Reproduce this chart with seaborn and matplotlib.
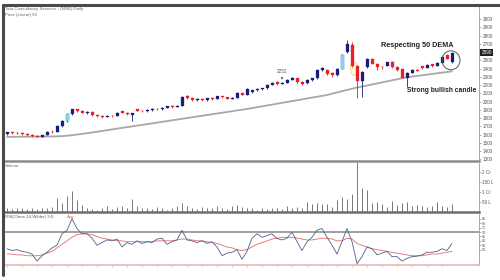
import numpy as np
import pandas as pd
import matplotlib
matplotlib.use("Agg")
import matplotlib.pyplot as plt
from matplotlib.lines import Line2D
from matplotlib.patches import Ellipse
import seaborn as sns

# ---------------- data ----------------
opens = [1610, 1625, 1615, 1622, 1608, 1598, 1585, 1572, 1595, 1635,
         1630, 1700, 1760, 1850, 1905, 1880, 1865, 1875, 1840, 1825,
         1815, 1830, 1825, 1880, 1862, 1835, 1905, 1890, 1880, 1895,
         1910, 1905, 1925, 1945, 1935, 1950, 2065, 2040, 2020, 2035,
         2015, 2040, 2030, 2065, 2050, 2035, 2045, 2100, 2085, 2110,
         2135, 2150, 2160, 2205, 2235, 2215, 2225, 2260, 2280, 2240,
         2220, 2260, 2280, 2380, 2380, 2350, 2320, 2400, 2600, 2690,
         2430, 2250, 2420, 2520, 2460, 2420, 2430, 2475, 2420, 2390,
         2290, 2350, 2385, 2425, 2410, 2450, 2430, 2470, 2560, 2480]
closes = [1625, 1615, 1622, 1608, 1598, 1585, 1575, 1592, 1635, 1628,
          1700, 1760, 1850, 1905, 1880, 1865, 1875, 1840, 1825, 1815,
          1830, 1825, 1865, 1862, 1848, 1855, 1890, 1880, 1895, 1910,
          1905, 1925, 1945, 1935, 1950, 2060, 2040, 2020, 2035, 2015,
          2040, 2030, 2065, 2050, 2035, 2045, 2100, 2085, 2150, 2135,
          2150, 2160, 2205, 2230, 2215, 2225, 2260, 2285, 2240, 2215,
          2260, 2280, 2380, 2410, 2330, 2320, 2400, 2560, 2700, 2430,
          2250, 2360, 2520, 2460, 2420, 2415, 2475, 2420, 2380, 2290,
          2350, 2380, 2375, 2410, 2445, 2430, 2470, 2540, 2520, 2590]
highs = [1635, 1632, 1630, 1628, 1615, 1605, 1592, 1600, 1645, 1650,
         1710, 1770, 1860, 1915, 1915, 1895, 1885, 1880, 1850, 1835,
         1840, 1838, 1872, 1890, 1870, 1860, 1912, 1900, 1905, 1918,
         1920, 1932, 1950, 1955, 1958, 2070, 2075, 2050, 2045, 2042,
         2048, 2050, 2070, 2072, 2058, 2052, 2110, 2112, 2160, 2145,
         2160, 2168, 2212, 2240, 2245, 2235, 2270, 2292, 2290, 2250,
         2268, 2290, 2390, 2420, 2395, 2360, 2410, 2570, 2740, 2720,
         2440, 2370, 2530, 2530, 2470, 2430, 2480, 2490, 2430, 2395,
         2360, 2390, 2395, 2435, 2455, 2460, 2480, 2550, 2575, 2600]
lows = [1600, 1605, 1606, 1598, 1588, 1575, 1565, 1565, 1590, 1620,
        1625, 1695, 1750, 1840, 1870, 1855, 1850, 1830, 1815, 1800,
        1808, 1815, 1820, 1855, 1840, 1760, 1880, 1870, 1875, 1888,
        1898, 1900, 1918, 1925, 1930, 1945, 2030, 2010, 2012, 2005,
        2010, 2020, 2025, 2040, 2025, 2030, 2040, 2078, 2080, 2100,
        2128, 2145, 2155, 2198, 2205, 2208, 2220, 2255, 2230, 2205,
        2212, 2250, 2275, 2370, 2320, 2300, 2310, 2390, 2590, 2420,
        2045, 2050, 2410, 2450, 2380, 2400, 2425, 2410, 2370, 2280,
        2180, 2340, 2365, 2400, 2405, 2420, 2425, 2465, 2510, 2470]
dema50 = [1572, 1572, 1573, 1573, 1574, 1574, 1575, 1575, 1576, 1577,
          1578, 1580, 1585, 1592, 1600, 1608, 1616, 1625, 1634, 1643,
          1652, 1662, 1671, 1680, 1689, 1698, 1708, 1717, 1726, 1735,
          1744, 1754, 1763, 1772, 1781, 1790, 1800, 1809, 1818, 1827,
          1836, 1846, 1855, 1864, 1873, 1882, 1892, 1901, 1910, 1920,
          1931, 1941, 1952, 1962, 1973, 1984, 1994, 2005, 2015, 2026,
          2037, 2047, 2058, 2068, 2079, 2095, 2110, 2125, 2140, 2155,
          2170, 2182, 2194, 2207, 2219, 2232, 2244, 2257, 2269, 2282,
          2294, 2302, 2310, 2318, 2326, 2334, 2342, 2350, 2358, 2366]
volume_lakh = [20, 15, 22, 18, 15, 20, 14, 22, 18, 25,
               70, 45, 80, 105, 60, 35, 20, 15, 12, 18,
               30, 15, 25, 28, 20, 65, 30, 18, 22, 15,
               25, 18, 12, 20, 28, 45, 30, 20, 15, 25,
               18, 22, 30, 20, 15, 28, 35, 25, 20, 22,
               12, 18, 15, 20, 22, 15, 28, 20, 25, 18,
               50, 40, 45, 38, 40, 25, 60, 75, 65, 90,
               260, 120, 110, 45, 50, 40, 25, 55, 35, 45,
               50, 30, 35, 28, 25, 30, 50, 30, 25, 40]
rsi = [51, 49, 50, 48, 47, 45, 37, 43, 47, 52,
       55, 68, 72, 85, 74, 68, 68, 63, 55, 58,
       61, 60, 62, 53, 58, 56, 60, 57, 59, 58,
       62, 63, 56, 59, 61, 72, 61, 60, 58, 60,
       57, 59, 53, 43, 46, 47, 50, 39, 48, 63,
       68, 64, 66, 68, 62.6, 61, 63, 70, 59, 49,
       59, 64, 72, 74, 64, 55, 45, 59, 74, 59,
       34, 42, 53, 51, 44, 46, 48, 42, 42, 37,
       40, 42, 42.5, 44, 47, 47, 48, 51, 49, 57]
rsi_avg = [45, 45, 44, 44, 43, 43, 43, 44, 46, 48,
           52, 56, 60, 64, 67, 68, 68, 67, 65, 63,
           62, 61, 60, 60, 59, 59, 59, 59, 59, 59,
           60, 60, 60, 60, 61, 62, 62, 61, 60, 60,
           59, 58, 57, 55, 53, 52, 50, 49, 50, 53,
           56, 58, 60, 62, 63, 64, 64, 64, 63, 62,
           61, 61, 62, 63, 63, 62, 60, 60, 63, 62,
           57, 55, 53, 51, 50, 49, 48, 47, 46, 45,
           44, 43, 43, 43, 44, 45, 45, 46, 47, 48]
price_ticks = [1300, 1400, 1500, 1600, 1700, 1800, 1900, 2000, 2100, 2200,
               2300, 2400, 2500, 2600, 2700, 2800, 2900, 3000]
volume_ticks = [50, 100, 150, 200]
volume_labels = ["50 L", "1 Cr", "150 L", "2 Cr"]
rsi_ticks = [50, 55, 60, 65, 70, 75, 80, 85]
last_price_label = "2590"

df = pd.DataFrame({"i": np.arange(len(opens)), "open": opens, "close": closes,
                   "high": highs, "low": lows, "dema": dema50,
                   "vol": volume_lakh, "rsi": rsi, "rsi_avg": rsi_avg})

# ---------------- style ----------------
sns.set_theme(style="white")
plt.rcParams["font.family"] = ["Liberation Sans", "DejaVu Sans"]

RED = "#e8202a"
NAVY = "#16207a"
CYAN = "#7fd3ee"
GREY_LINE = "#a8a8a8"
TICK_COL = "#555555"

fig = plt.figure(figsize=(5, 2.8), dpi=100)
fig.patch.set_facecolor("white")

L, W = 3 / 500, 476 / 500
ax1 = fig.add_axes([L, 1 - 161 / 280, W, 156 / 280])
ax2 = fig.add_axes([L, 1 - 212 / 280, W, 49 / 280], sharex=ax1)
ax3 = fig.add_axes([L, 1 - 265 / 280, W, 51 / 280], sharex=ax1)

for ax in (ax1, ax2, ax3):
    ax.set_facecolor("white")
    for s in ("top", "left"):
        ax.spines[s].set_visible(False)
    ax.spines["right"].set_color("#888888")
    ax.spines["right"].set_linewidth(0.5)
    ax.yaxis.tick_right()
    ax.tick_params(axis="y", which="both", right=True, left=False, length=1.5,
                   width=0.4, colors="#777777", labelsize=3.3, pad=1,
                   labelcolor=TICK_COL)
    ax.tick_params(axis="x", labelbottom=False, bottom=False)
    ax.grid(False)

ax1.spines["bottom"].set_color("#8c8c8c")
ax1.spines["bottom"].set_linewidth(1.8)
ax2.spines["bottom"].set_color("#6e6e6e")
ax2.spines["bottom"].set_linewidth(1.8)
ax3.spines["bottom"].set_color("#e7b7b7")
ax3.spines["bottom"].set_linewidth(1.2)

# ---------------- price panel ----------------
cw = 0.6
for _, r in df.iterrows():
    up = r["close"] >= r["open"]
    col = NAVY if up else RED
    ax1.vlines(r["i"], r["low"], r["high"], color=col, lw=0.6, zorder=2)
    lo, hi = min(r["open"], r["close"]), max(r["open"], r["close"])
    ax1.bar(r["i"], max(hi - lo, 4), bottom=lo, width=cw, color=col,
            edgecolor=col, linewidth=0.2, zorder=3)

# a few light-blue (cyan) candles as in the reference
for k in (12, 67):
    r = df.iloc[k]
    lo, hi = min(r["open"], r["close"]), max(r["open"], r["close"])
    ax1.bar(k, hi - lo, bottom=lo, width=cw, color=CYAN, edgecolor=CYAN,
            linewidth=0.2, zorder=4)

sns.lineplot(data=df, x="i", y="dema", ax=ax1, color=GREY_LINE, lw=1.3,
             zorder=1, legend=False)

ax1.set_ylim(1279, 3170)
ax1.set_xlim(-0.8, 94.4)
ax1.set_yticks(price_ticks)
ax1.set_yticklabels([str(t) for t in price_ticks])
ax1.set_xlabel("")
ax1.set_ylabel("")

# highlighted last price
ax1.text(1.005, 2590, last_price_label, transform=ax1.get_yaxis_transform(),
         fontsize=3.3, color="white", va="center", ha="left",
         bbox=dict(boxstyle="square,pad=0.25", fc="#222222", ec="none"),
         zorder=10, clip_on=False)

# highlight ellipse around big red candle
ax1.add_patch(Ellipse((69.4, 2400), 1.4, 170, fill=True, fc="#fff8d0",
                      ec="#ead98a", lw=0.6, zorder=1.5))
# circle around last candle
ax1.add_patch(Ellipse((88.8, 2500), 3.6, 230, fill=False, ec="#555555",
                      lw=0.7, zorder=5))

ax1.text(82, 2680, "Respecting 50 DEMA", fontsize=5.2, fontweight="bold",
         color="#222222", ha="center", va="center")
ax1.text(87, 2135, "Strong bullish candle", fontsize=4.9, fontweight="bold",
         color="#222222", ha="center", va="center")
ax1.annotate("2252", xy=(55, 2265), xytext=(55, 2360), fontsize=3.3,
             color="#555555", ha="center", va="center",
             arrowprops=dict(arrowstyle="-|>", lw=0.4, color="#555555",
                             mutation_scale=3))

ax1.text(0.004, 0.985, "Tata Consultancy Services - (NSE) Daily",
         transform=ax1.transAxes, fontsize=3.2, color="#666666",
         ha="left", va="top")
ax1.text(0.004, 0.95, "Price (Linear) 50", transform=ax1.transAxes,
         fontsize=3.2, color="#666666", ha="left", va="top")

# ---------------- volume panel ----------------
ax2.vlines(df["i"], 0, df["vol"], color="#444444", lw=0.5)
ax2.set_ylim(0, 245)
ax2.set_yticks(volume_ticks)
ax2.set_yticklabels(volume_labels)
ax2.text(0.004, 0.97, "Volume", transform=ax2.transAxes, fontsize=3.2,
         color="#666666", ha="left", va="top")

# ---------------- RSI panel ----------------
ax3.axhline(70, color="#9a9a9a", lw=1.3, zorder=1)
sns.lineplot(data=df, x="i", y="rsi_avg", ax=ax3, color="#e26a6a", lw=0.6,
             legend=False, zorder=2)
sns.lineplot(data=df, x="i", y="rsi", ax=ax3, color="#4f5f8e", lw=0.6,
             legend=False, zorder=3)
ax3.set_ylim(32.5, 90.5)
ax3.set_yticks(rsi_ticks)
ax3.set_yticklabels([str(t) for t in rsi_ticks])
ax3.tick_params(axis="y", labelsize=2.7, pad=0.8)
ax3.set_xlabel("")
ax3.set_ylabel("")
ax3.set_xticks(np.arange(0, 90, 3))
ax3.tick_params(axis="x", bottom=True, length=1.5, width=0.4,
                colors="#d8a0a0", labelbottom=False)
ax3.text(0.004, 0.99, "RSI(Close,14,Wilder) 9,E", transform=ax3.transAxes,
         fontsize=3.2, color="#4f5f8e", ha="left", va="top")
ax3.text(0.135, 0.99, "Avg", transform=ax3.transAxes, fontsize=3.2,
         color="#e26a6a", ha="left", va="top")

# ---------------- frame lines ----------------
fig.add_artist(Line2D([3 / 500, 1.0], [1 - 5 / 280, 1 - 5 / 280],
                      transform=fig.transFigure, color="#4a4a4a", lw=2.2))
fig.add_artist(Line2D([3 / 500, 3 / 500], [1 - 5 / 280, 1 - 275 / 280],
                      transform=fig.transFigure, color="#4a4a4a", lw=2.2))

fig.savefig("out.png", dpi=100)
